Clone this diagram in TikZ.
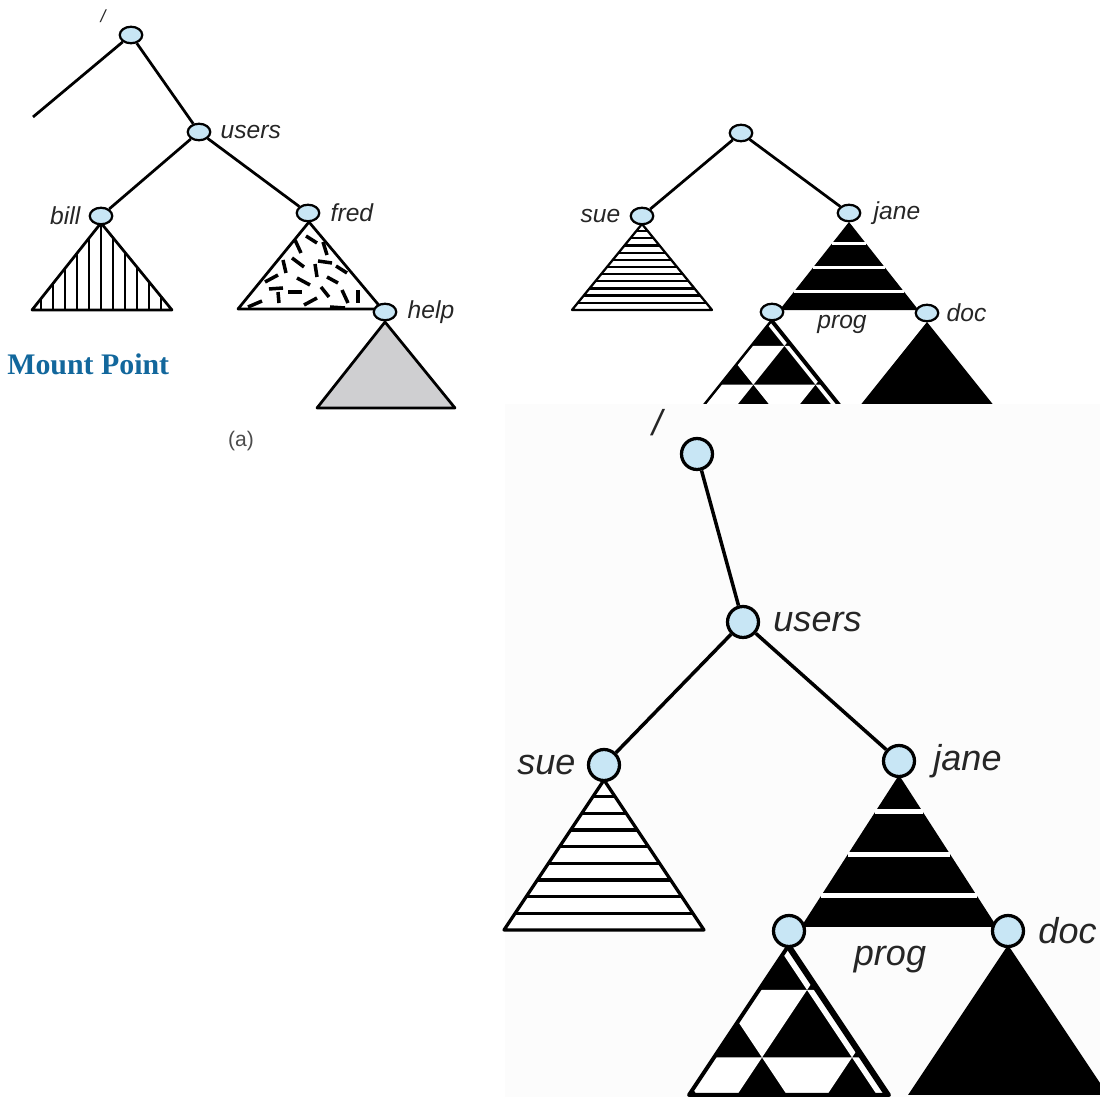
\documentclass[tikz,border=0pt]{standalone}
\usepackage{fontspec}
\setmainfont{Liberation Serif}
\setsansfont{Liberation Sans}
\definecolor{vblue}{HTML}{C8E6F5}
\definecolor{mountblue}{HTML}{12679C}
\definecolor{helpgray}{HTML}{CFCFD1}
\definecolor{panelbg}{HTML}{FCFCFC}
\usetikzlibrary{positioning, shapes.geometric}

\newcommand{\suetri}[2]{%
  \fill[white] (0,0) -- (-100,150) -- (100,150) -- cycle;
  \foreach \yy in {#1}
    \draw[line width=#2] ({-\yy/1.5},\yy) -- ({\yy/1.5},\yy);
  \draw[line width=#2, line join=round] (0,0) -- (-100,150) -- (100,150) -- cycle;
}
\newcommand{\janetri}[1]{%
  \fill (0,0) -- (-100,150) -- (100,150) -- cycle;
  \foreach \yy in {36,78,119}
    \draw[white, line width=#1] ({-\yy/1.5},\yy) -- ({\yy/1.5},\yy);
}
\newcommand{\progtri}[1]{%
  \fill (0,0) -- (-100,150) -- (100,150) -- cycle;
  \begin{scope}
    \clip (0,0) -- (-100,150) -- (100,150) -- cycle;
    \foreach \bx/\by in {18/45, -27/112.5, 63/112.5, -72/180, 18/180, 108/180}
      \fill[white] ({\bx-45},{\by-67.5}) -- ({\bx+45},{\by-67.5}) -- (\bx,\by) -- cycle;
    \fill (0,0) -- (100,150) -- (95,150) -- (-5,0) -- cycle;
  \end{scope}
  \draw[line width=#1, line join=round] (0,0) -- (-100,150) -- (100,150) -- cycle;
}
\newcommand{\doctri}{%
  \fill (0,0) -- (-100,150) -- (100,150) -- cycle;
}

\begin{document}
\begin{tikzpicture}[x=0.02cm, y=-0.02cm,
  vtx/.style={ellipse, draw, fill=vblue, line width=0.045cm,
              minimum width=0.45cm, minimum height=0.33cm, inner sep=0pt},
  bigvtx/.style={circle, draw, fill=vblue, line width=0.065cm,
                 minimum size=0.62cm, inner sep=0pt},
  link/.style={line width=0.055cm},
  biglink/.style={line width=0.07cm},
  triline/.style={line width=0.055cm, line join=round},
  fleck/.style={line width=0.07cm},
  lbl/.style={font=\sffamily\itshape\fontsize{14}{16}\selectfont, text=black!85, inner sep=0pt},
  biglbl/.style={font=\sffamily\itshape\fontsize{20.5}{24}\selectfont, text=black!85, inner sep=0pt},
]
\useasboundingbox (0,0) rectangle (1100,1097);

% (a)
\begin{scope}
  \fill[white] (101,223) -- (32,310) -- (172,310) -- cycle;
  \clip (101,223) -- (32,310) -- (172,310) -- cycle;
  \foreach \i in {-5,...,5}
    \draw[line width=0.045cm] ({101+12*\i},215) -- ++(0,100);
\end{scope}
\draw[triline] (101,223) -- (32,310) -- (172,310) -- cycle;

\begin{scope}
  \clip (309,222) -- (382,309) -- (238,309) -- cycle;
  \foreach \xa/\ya/\xb/\yb in {295/240/301/253, 306/236/317/243, 323/242/327/255,
      283/260/286/273, 292/258/304/267, 315/264/317/277, 318/261/332/263,
      336/266/347/273, 265/282/278/275, 297/278/310/285, 327/277/338/283,
      269/289/283/288, 288/292/302/292, 278/292/279/303, 321/287/329/297,
      342/290/348/303, 358/290/358/303, 248/307/262/301, 304/305/317/298,
      330/307/345/308}
    \draw[fleck] (\xa,\ya) -- (\xb,\yb);
\end{scope}
\draw[triline] (309,222) -- (382,309) -- (238,309) -- cycle;
\draw[triline, fill=helpgray] (385,322) -- (455,408) -- (317,408) -- cycle;

\node[vtx] (aroot) at (131,35) {};
\node[vtx] (ausers) at (199,132) {};
\node[vtx] (abill) at (101,216) {};
\node[vtx] (afred) at (308,213) {};
\node[vtx] (ahelp) at (385,312) {};
\coordinate (astub) at (33,117);

\draw[link] (aroot) -- (astub);
\draw[link] (aroot) -- (ausers);
\draw[link] (ausers) -- (abill);
\draw[link] (ausers) -- (afred);

\node[lbl, font=\sffamily\itshape\fontsize{10}{12}\selectfont] at (103,16) {/};
\node[lbl, right=0.18cm of ausers] {users};
\node[lbl, left=0.16cm of abill] {bill};
\node[lbl, right=0.2cm of afred] {fred};
\node[lbl, right=0.2cm of ahelp] {help};

\node[font=\bfseries\fontsize{17}{20}\selectfont, text=mountblue, anchor=west, inner sep=0pt]
  (mount) at (7,364) {Mount Point};
\node[font=\sffamily\fontsize{12}{14}\selectfont, text=black!70, inner sep=0pt]
  (capa) at (241,441) {(a)};

% (b)
\begin{scope}[shift={(642,224)}, xscale=0.70, yscale=0.573]
  \suetri{12.5,25,...,137.5}{0.045cm}
\end{scope}
\begin{scope}[shift={(849,222)}, xscale=0.695, yscale=0.587]
  \janetri{0.06cm}
\end{scope}
\begin{scope}[shift={(772,320)}, xscale=0.69, yscale=0.575]
  \progtri{0.05cm}
\end{scope}
\begin{scope}[shift={(927,322)}, xscale=0.69, yscale=0.575]
  \doctri
\end{scope}

\node[vtx] (broot) at (741,133) {};
\node[vtx] (bsue) at (642,216) {};
\node[vtx] (bjane) at (849,213) {};
\node[vtx] (bprog) at (772,312) {};
\node[vtx] (bdoc) at (927,313) {};

\draw[link] (broot) -- (bsue);
\draw[link] (broot) -- (bjane);

\node[lbl, left=0.18cm of bsue] {sue};
\node[lbl, right=0.24cm of bjane] {jane};
\node[lbl, right=0.14cm of bdoc] {doc};
\node[lbl] at (842,324) {prog};

% mounted
\fill[panelbg] (505,404) rectangle (1100,1097);

\begin{scope}[shift={(604,780)}]
  \suetri{16.7,33.3,50,66.7,83.3,100,116.7,133.3}{0.065cm}
\end{scope}
\begin{scope}[shift={(899,775)}, xscale=0.98, yscale=1.013]
  \janetri{0.1cm}
\end{scope}
\begin{scope}[shift={(789,945)}]
  \progtri{0.08cm}
\end{scope}
\begin{scope}[shift={(1008,945)}]
  \doctri
\end{scope}

\node[bigvtx] (croot) at (697,454) {};
\node[bigvtx] (cusers) at (743,622) {};
\node[bigvtx] (csue) at (604,765) {};
\node[bigvtx] (cjane) at (899,761) {};
\node[bigvtx] (cprog) at (789,931) {};
\node[bigvtx] (cdoc) at (1008,931) {};

\draw[biglink] (croot) -- (cusers);
\draw[biglink] (cusers) -- (csue);
\draw[biglink] (cusers) -- (cjane);

\node[biglbl] at (657,423) {/};
\node[biglbl, right=0.26cm of cusers] {users};
\node[biglbl, left=0.22cm of csue] {sue};
\node[biglbl, right=0.34cm of cjane] {jane};
\node[biglbl, right=0.26cm of cdoc] {doc};
\node[biglbl] at (890,960) {prog};
\end{tikzpicture}
\end{document}
